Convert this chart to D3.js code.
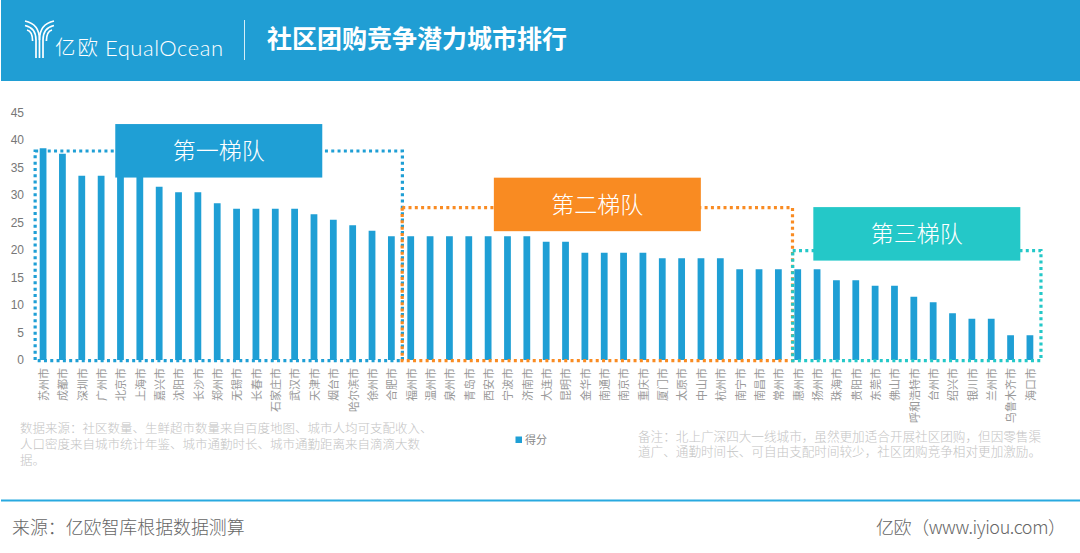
<!DOCTYPE html>
<html>
<head>
<meta charset="utf-8">
<script src="https://cdn.jsdelivr.net/npm/d3@7"></script>
<style>
html, body { margin: 0; padding: 0; background: #fff; }
svg { display: block; }
text { font-family: "Noto Sans CJK SC", "Noto Sans", sans-serif; }
</style>
</head>
<body>
<script>
const WIDTH = 1080;
const HEIGHT = 553;

const cities = ["苏州市", "成都市", "深圳市", "广州市", "北京市", "上海市", "嘉兴市", "沈阳市", "长沙市", "郑州市", "无锡市", "长春市", "石家庄市", "武汉市", "天津市", "烟台市", "哈尔滨市", "徐州市", "合肥市", "福州市", "温州市", "泉州市", "青岛市", "西安市", "宁波市", "济南市", "大连市", "昆明市", "金华市", "南通市", "南京市", "重庆市", "厦门市", "太原市", "中山市", "杭州市", "南宁市", "南昌市", "常州市", "惠州市", "扬州市", "珠海市", "贵阳市", "东莞市", "佛山市", "呼和浩特市", "台州市", "绍兴市", "银川市", "兰州市", "乌鲁木齐市", "海口市"];
const scores = [38.5, 37.5, 33.5, 33.5, 33.5, 33.5, 31.5, 30.5, 30.5, 28.5, 27.5, 27.5, 27.5, 27.5, 26.5, 25.5, 24.5, 23.5, 22.5, 22.5, 22.5, 22.5, 22.5, 22.5, 22.5, 22.5, 21.5, 21.5, 19.5, 19.5, 19.5, 19.5, 18.5, 18.5, 18.5, 18.5, 16.5, 16.5, 16.5, 16.5, 16.5, 14.5, 14.5, 13.5, 13.5, 11.5, 10.5, 8.5, 7.5, 7.5, 4.5, 4.5];
const yTicks = [0, 5, 10, 15, 20, 25, 30, 35, 40, 45];

const tierNames = ["第一梯队", "第二梯队", "第三梯队"];
const tierColors = ["#1f9fd5", "#f98b22", "#24c8c8"];
const tierFirst = ["苏州市", "福州市", "惠州市"];
const tierLast = ["合肥市", "常州市", "海口市"];
const tierTops = [38, 27.7, 19.9];
const tierLabelTops = [42.9, 33.15, 27.8];
// how far the dotted outline sits from the first/last bar centre, in band steps
const tierPadLeft = [0.41, 0.44, 0.26];
const tierPadRight = [0.57, 0.73, 0.57];

const noteLeft = ["数据来源：社区数量、生鲜超市数量来自百度地图、城市人均可支配收入、", "人口密度来自城市统计年鉴、城市通勤时长、城市通勤距离来自滴滴大数", "据。"];
const noteRight = ["备注：北上广深四大一线城市，虽然更加适合开展社区团购，但因零售渠", "道广、通勤时间长、可自由支配时间较少，社区团购竞争相对更加激励。"];

const svg = d3.select("body").append("svg").attr("width", WIDTH).attr("height", HEIGHT);

const x = d3.scaleBand().domain(cities).range([33.4, 1039.6]).paddingInner(0.65).paddingOuter(0.325);
const y = d3.scaleLinear().domain([0, 45]).range([360, 112.5]);
const centre = (city) => x(city) + x.bandwidth() / 2;

// header
svg.append("rect").attr("x", 1).attr("y", 0).attr("width", WIDTH - 1).attr("height", 81).attr("fill", "#209ed4");

const logo = svg.append("g").attr("fill", "none").attr("stroke", "#fff").attr("stroke-width", 1.7);
[
  "M25 21 C35 23 39.5 29 39.5 40 L39.5 58",
  "M54 21 C44 23 39.5 29 39.5 40",
  "M25 25.5 C32 27 36 31 36 40 L36 58",
  "M54 25.5 C47 27 43 31 43 40 L43 58",
  "M27 30 C31 31 32.6 35 32.6 41",
  "M52 30 C48 31 46.4 35 46.4 41"
].forEach((d) => logo.append("path").attr("d", d));

svg.append("text").attr("x", 55).attr("y", 55).attr("fill", "#fff").attr("font-size", 20.5).attr("font-weight", 300).attr("textLength", 43).text("亿欧");
svg.append("text").attr("x", 105).attr("y", 55.5).attr("fill", "#fff").attr("font-size", 22).attr("font-weight", 300)
  .attr("textLength", 118).style("font-family", "Lato, sans-serif").text("EqualOcean");
svg.append("line").attr("x1", 244.5).attr("x2", 244.5).attr("y1", 20).attr("y2", 60).attr("stroke", "#d5eef8").attr("stroke-width", 1);
svg.append("text").attr("x", 267).attr("y", 48).attr("fill", "#fff").attr("font-size", 25).attr("font-weight", 700).text("社区团购竞争潜力城市排行");

// axes
const yAxis = svg.append("g").attr("transform", "translate(24,0)").call(d3.axisLeft(y).tickValues(yTicks).tickSize(0).tickPadding(0));
yAxis.select(".domain").remove();
yAxis.selectAll("text").attr("fill", "#777").attr("font-size", 12).style("font-family", "'Liberation Sans', sans-serif");

const xAxis = svg.append("g").attr("transform", "translate(0,360)").call(d3.axisBottom(x).tickSize(0).tickPadding(0));
xAxis.select(".domain").remove();
xAxis.selectAll("text")
  .attr("fill", "#999")
  .attr("font-size", 11)
  .attr("text-anchor", "end")
  .attr("dy", "0.35em")
  .attr("transform", "translate(1,8) rotate(-90)")
  .attr("y", 0)
  .attr("x", 0);

// bars
svg.append("g").selectAll("rect").data(scores).join("rect")
  .attr("x", (d, i) => x(cities[i]))
  .attr("width", x.bandwidth())
  .attr("y", (d) => y(d))
  .attr("height", (d) => y(0) - y(d))
  .attr("fill", "#1f9fd5");

// tier outlines and labels
const tierLeft = (i) => centre(tierFirst[i]) - x.step() * tierPadLeft[i];
const tierRight = (i) => centre(tierLast[i]) + x.step() * tierPadRight[i];

tierNames.forEach((name, i) => {
  svg.append("rect")
    .attr("x", tierLeft(i))
    .attr("y", y(tierTops[i]))
    .attr("width", tierRight(i) - tierLeft(i))
    .attr("height", y(0) + 0.7 - y(tierTops[i]))
    .attr("fill", "none")
    .attr("stroke", tierColors[i])
    .attr("stroke-width", 3.2)
    .attr("stroke-dasharray", "3 3.3");
});

tierNames.forEach((name, i) => {
  const cx = (tierLeft(i) + tierRight(i)) / 2;
  svg.append("rect")
    .attr("x", cx - 103.5)
    .attr("y", y(tierLabelTops[i]))
    .attr("width", 207)
    .attr("height", 53.5)
    .attr("fill", tierColors[i]);
  svg.append("text")
    .attr("x", cx)
    .attr("y", y(tierLabelTops[i]) + 27)
    .attr("dy", "0.36em")
    .attr("text-anchor", "middle")
    .attr("fill", "#fff")
    .attr("font-size", 23)
    .attr("font-weight", 300)
    .text(name);
});

// notes, one text element each with a tspan per line
svg.append("text")
  .attr("fill", "#c4c4c4").attr("font-size", 12.5).attr("font-weight", 300)
  .selectAll("tspan").data(noteLeft).join("tspan")
  .attr("x", 20).attr("y", (d, i) => 433 + i * 16).text((d) => d);
svg.append("text")
  .attr("fill", "#c4c4c4").attr("font-size", 12.6).attr("font-weight", 300)
  .selectAll("tspan").data(noteRight).join("tspan")
  .attr("x", 638).attr("y", (d, i) => 440.5 + i * 15.5).text((d) => d);

// legend
svg.append("rect").attr("x", 515.5).attr("y", 436.5).attr("width", 6.5).attr("height", 6.5).attr("fill", "#1f9fd5");
svg.append("text").attr("x", 525).attr("y", 443.5).attr("fill", "#888").attr("font-size", 11).text("得分");

// footer
svg.append("rect").attr("x", 1).attr("y", 499.5).attr("width", WIDTH - 1).attr("height", 2).attr("fill", "#29a9e0");
svg.append("text").attr("x", 12).attr("y", 534).attr("fill", "#666").attr("font-size", 17.9).attr("font-weight", 300).text("来源：亿欧智库根据数据测算");
svg.append("text").attr("x", 876).attr("y", 534).attr("fill", "#666").attr("font-size", 18).attr("font-weight", 300).attr("textLength", 190).text("亿欧（www.iyiou.com）");
</script>
</body>
</html>
